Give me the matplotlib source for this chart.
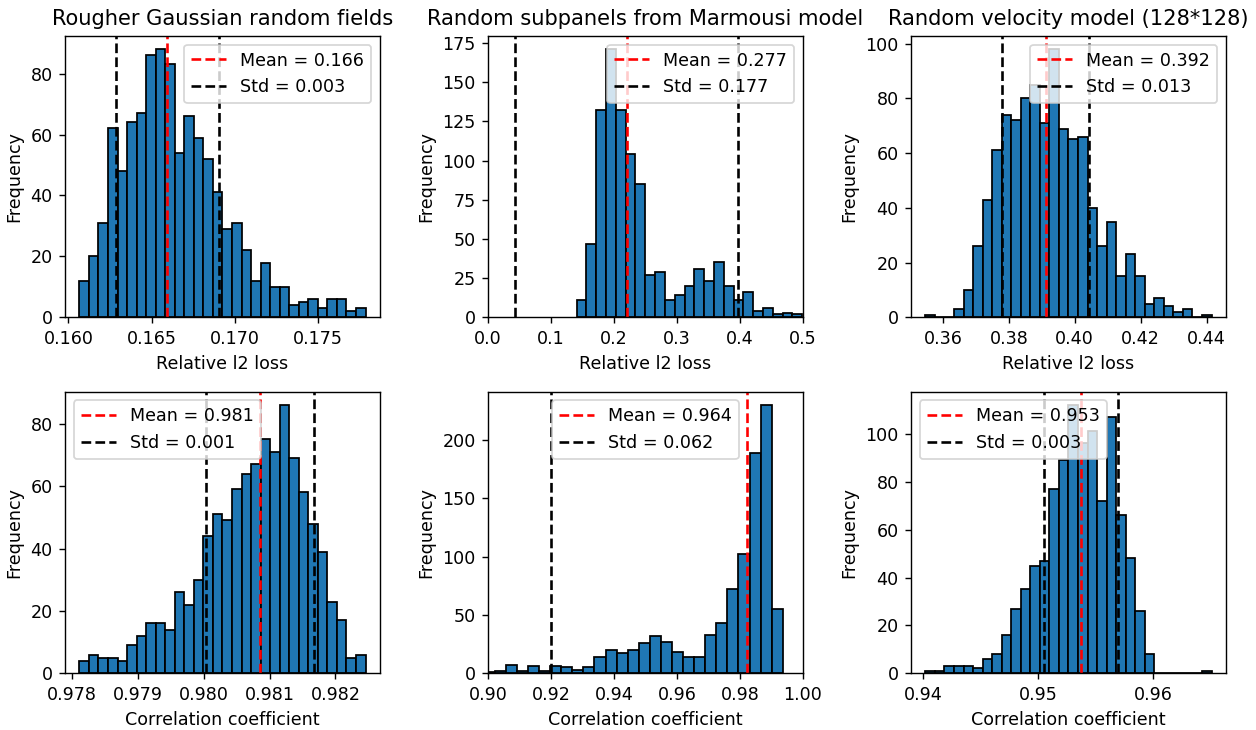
import matplotlib
matplotlib.use("Agg")
import matplotlib.pyplot as plt
from matplotlib.ticker import MultipleLocator
import numpy as np

# 各パネルのヒストグラム(読み取り値)
titles = ["Rougher Gaussian random fields",
          "Random subpanels from Marmousi model",
          "Random velocity model (128*128)"]

# 上段: Relative l2 loss
counts_grf = [12, 20, 31, 62, 48, 64, 67, 86, 88, 83, 54, 66, 59, 52, 41,
              29, 31, 22, 12, 18, 10, 10, 4, 5, 6, 3, 6, 6, 2, 3]
range_grf = (0.16066, 0.17785)
counts_marm = [11, 47, 132, 171, 132, 104, 85, 27, 29, 11, 14, 20, 31, 23,
               35, 20, 11, 16, 4, 6, 2, 3, 2]
range_marm = (0.1407, 0.4990)
counts_vel = [1, 0, 0, 3, 10, 26, 43, 61, 74, 72, 80, 85, 71, 98, 69, 65,
              66, 40, 26, 35, 15, 23, 15, 5, 7, 4, 2, 3, 0, 1]
range_vel = (0.35465, 0.44152)

# 下段: Correlation coefficient
counts_grf_cc = [4, 6, 5, 5, 4, 9, 12, 16, 16, 14, 26, 22, 30, 44, 51, 49,
                 59, 64, 67, 75, 71, 86, 69, 58, 48, 39, 23, 17, 5, 6]
range_grf_cc = (0.978116, 0.982455)
counts_marm_cc = [1, 2, 7, 2, 6, 2, 6, 5, 3, 5, 14, 20, 17, 20, 26, 32, 27,
                  18, 14, 14, 33, 43, 72, 102, 189, 230, 55]
range_marm_cc = (0.898609, 0.993617)
counts_vel_cc = [1, 1, 3, 3, 3, 2, 6, 8, 16, 27, 35, 45, 47, 77, 89, 112, 96,
                 101, 72, 107, 66, 48, 26, 8, 0, 0, 0, 0, 0, 1]
range_vel_cc = (0.94020, 0.96506)

# 破線の位置(中心, 幅)と凡例の値
line_center = [0.16595, 0.2203, 0.39111, 0.980856, 0.98213, 0.9537]
line_std = [0.0031, 0.1775, 0.01323, 0.000821, 0.06224, 0.0032]
mean_label = [0.166, 0.277, 0.392, 0.981, 0.964, 0.953]
std_label = [0.003, 0.177, 0.013, 0.001, 0.062, 0.003]

all_counts = [counts_grf, counts_marm, counts_vel,
              counts_grf_cc, counts_marm_cc, counts_vel_cc]
all_ranges = [range_grf, range_marm, range_vel,
              range_grf_cc, range_marm_cc, range_vel_cc]
legend_loc = ["upper right", "upper right", "upper right",
              "upper left", "upper center", "upper left"]

dpi = 126
fig, axes = plt.subplots(2, 3, figsize=(1256 / dpi, 730 / dpi), dpi=dpi)
fig.subplots_adjust(left=0.0518, right=0.976, top=0.951, bottom=0.0777,
                    wspace=0.344, hspace=0.264)

for k, ax in enumerate(axes.flat):
    counts = np.array(all_counts[k], dtype=float)
    lo, hi = all_ranges[k]
    edges = np.linspace(lo, hi, len(counts) + 1)
    ax.hist(edges[:-1], bins=edges, weights=counts, edgecolor="black")

    c = line_center[k]
    s = line_std[k]
    ax.axvline(c, color="r", linestyle="--", label=f"Mean = {mean_label[k]:.3f}")
    ax.axvline(c - s, color="k", linestyle="--", label=f"Std = {std_label[k]:.3f}")
    ax.axvline(c + s, color="k", linestyle="--")

    ax.set_ylabel("Frequency")
    if k < 3:
        ax.set_title(titles[k])
        ax.set_xlabel("Relative l2 loss")
    else:
        ax.set_xlabel("Correlation coefficient")
    ax.legend(loc=legend_loc[k])

axes[0, 1].set_xlim(0, 0.5)
axes[0, 1].yaxis.set_major_locator(MultipleLocator(25))
axes[1, 1].set_xlim(0.9, 1.0)
axes[1, 2].xaxis.set_major_locator(MultipleLocator(0.01))

fig.savefig("out.png", dpi=dpi)
